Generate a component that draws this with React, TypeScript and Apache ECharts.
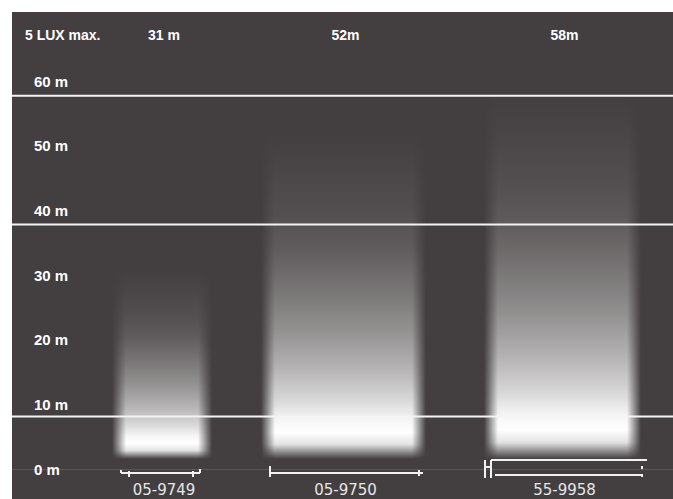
import React, { useEffect, useRef } from "react";
import * as echarts from "echarts";

// ---- data ----
const headerLabel = "5 LUX max.";
const models = ["05-9749", "05-9750", "55-9958"];
const beamDistance = [31, 52, 58]; // metres reached at 5 lux
const topLabels = ["31 m", "52m", "58m"];
const beamCenter = [22.7, 50.2, 83.3]; // lateral position on the hidden x scale (0-100)
const beamWidth = [12.9, 22.8, 21.6]; // beam width on the same scale
const distanceTicks = [0, 10, 20, 30, 40, 50, 60];
const guideLines = [57.7, 37.8, 8.1]; // white reference lines (m)

const BG = "#433e3f";

function beamGradient() {
  const stops: [number, number][] = [
    [0, 0.0],
    [0.12, 0.04],
    [0.25, 0.09],
    [0.35, 0.15],
    [0.46, 0.26],
    [0.6, 0.42],
    [0.72, 0.6],
    [0.82, 0.8],
    [0.88, 0.95],
    [0.92, 1],
    [0.955, 0.85],
    [1, 0],
  ];
  return new echarts.graphic.LinearGradient(
    0,
    0,
    0,
    1,
    stops.map(([o, a]) => ({ offset: o, color: `rgba(255,255,255,${a})` }))
  );
}

function bracket(idx: number, xl: number, xr: number, y0: number) {
  const st = { stroke: "#f2f2f2", lineWidth: 2 };
  const ln = (x1: number, y1: number, x2: number, y2: number) => ({
    type: "line",
    shape: { x1, y1, x2, y2 },
    style: st,
  });
  if (idx === 0) {
    const y = y0 + 4;
    return [
      ln(xl + 2, y, xr - 5, y),
      ln(xl + 2, y - 3, xl + 2, y),
      ln(xl + 10, y - 2, xl + 10, y + 4),
      ln(xr - 12, y - 2, xr - 12, y + 4),
      ln(xr - 5, y, xr - 5, y - 4),
    ];
  }
  if (idx === 1) {
    const y = y0 + 4;
    return [
      ln(xl + 2, y, xr + 4, y),
      ln(xl + 2, y - 7, xl + 2, y + 4),
      ln(xr, y - 3, xr, y + 3),
    ];
  }
  const yt = y0 - 9;
  const yb = y0 + 6;
  return [
    ln(xl - 6, yt, xl - 6, yb + 3),
    ln(xl, yt, xl, yb + 3),
    ln(xl - 6, yt + 7, xl, yt + 7),
    ln(xl, yt, xr + 13, yt),
    ln(xl + 4, yb, xr + 8, yb),
    ln(xr + 8, yb - 9, xr + 8, yb - 6),
    ln(xr + 8, yb - 1, xr + 8, yb + 2),
  ];
}

export default function App() {
  const ref = useRef<HTMLDivElement>(null);

  useEffect(() => {
    if (!ref.current) return;
    const chart = echarts.init(ref.current, null, { renderer: "svg" });

    const beamData = beamDistance.map((d, i) => [beamCenter[i], beamWidth[i], d]);

    const option: any = {
      animation: false,
      backgroundColor: BG,
      grid: { left: 12, right: 0, top: 81, bottom: 30 },
      xAxis: {
        type: "value",
        min: 0,
        max: 100,
        offset: 11,
        axisLine: { show: true, lineStyle: { color: "#5c5657", width: 1 } },
        axisTick: { show: false },
        axisLabel: { show: false },
        splitLine: { show: false },
      },
      yAxis: {
        type: "value",
        min: distanceTicks[0],
        max: distanceTicks[distanceTicks.length - 1],
        interval: 10,
        axisLine: { show: false },
        axisTick: { show: false },
        splitLine: { show: false },
        axisLabel: {
          inside: true,
          margin: 22,
          formatter: "{value} m",
          color: "#ffffff",
          fontSize: 15,
          fontWeight: "bold",
          fontFamily: "Liberation Sans",
        },
      },
      graphic: [
        {
          type: "text",
          left: 25,
          top: 28,
          z: 50,
          style: {
            text: headerLabel,
            fill: "#ffffff",
            fontSize: 14,
            fontWeight: "bold",
            fontFamily: "Liberation Sans",
          },
        },
        { type: "rect", shape: { x: 0, y: 0, width: 673, height: 12 }, style: { fill: "#ffffff" }, z: 100 },
        { type: "rect", shape: { x: 0, y: 0, width: 12, height: 499 }, style: { fill: "#ffffff" }, z: 100 },
      ],
      series: [
        {
          type: "custom",
          clip: false,
          z: 2,
          data: beamData,
          renderItem: (params: any, api: any) => {
            const i = params.dataIndex;
            const c = api.value(0);
            const w = api.value(1);
            const d = api.value(2);
            const pTop = api.coord([c - w / 2, d]);
            const pBot = api.coord([c + w / 2, 0]);
            const xl = Math.round(pTop[0]);
            const xr = Math.round(pBot[0]);
            const yt = pTop[1];
            const yBase = pBot[1];
            const yb = yBase - 10;
            const E = 14;
            const children: any[] = [];
            children.push({
              type: "rect",
              shape: { x: xl + E / 2, y: yt, width: xr - xl - E, height: yb - yt },
              style: { fill: beamGradient() },
            });
            for (let k = 0; k < E; k++) {
              const op = (k + 0.5) / E;
              children.push({
                type: "rect",
                shape: { x: xl - E / 2 + k, y: yt, width: 1, height: yb - yt },
                style: { fill: beamGradient(), opacity: op },
              });
              children.push({
                type: "rect",
                shape: { x: xr + E / 2 - k - 1, y: yt, width: 1, height: yb - yt },
                style: { fill: beamGradient(), opacity: op },
              });
            }
            const cx = (xl + xr) / 2;
            children.push({
              type: "text",
              x: cx + 2,
              y: 35,
              style: {
                text: topLabels[i],
                fill: "#ffffff",
                fontSize: 14,
                fontWeight: "bold",
                fontFamily: "Liberation Sans",
                align: "center",
                verticalAlign: "middle",
              },
            });
            children.push({
              type: "text",
              x: cx + 2,
              y: yBase + 21,
              style: {
                text: models[i],
                fill: "#e6e6e6",
                fontSize: 15,
                fontFamily: "DejaVu Sans",
                align: "center",
                verticalAlign: "middle",
              },
            });
            bracket(i, xl, xr, yBase).forEach((b) => children.push(b));
            return { type: "group", children };
          },
        },
        {
          type: "custom",
          clip: false,
          z: 10,
          data: guideLines.map((v) => [0, v]),
          renderItem: (params: any, api: any) => {
            const y = api.coord([0, api.value(1)])[1];
            const cs = params.coordSys;
            return {
              type: "line",
              shape: { x1: cs.x - 2, y1: y, x2: cs.x + cs.width, y2: y },
              style: { stroke: "#f4f4f4", lineWidth: 2 },
            };
          },
        },
      ],
    };

    chart.setOption(option);
    return () => chart.dispose();
  }, []);

  return (
    <div
      ref={ref}
      style={{ position: "fixed", left: 0, top: 0, width: 673, height: 499 }}
    />
  );
}
